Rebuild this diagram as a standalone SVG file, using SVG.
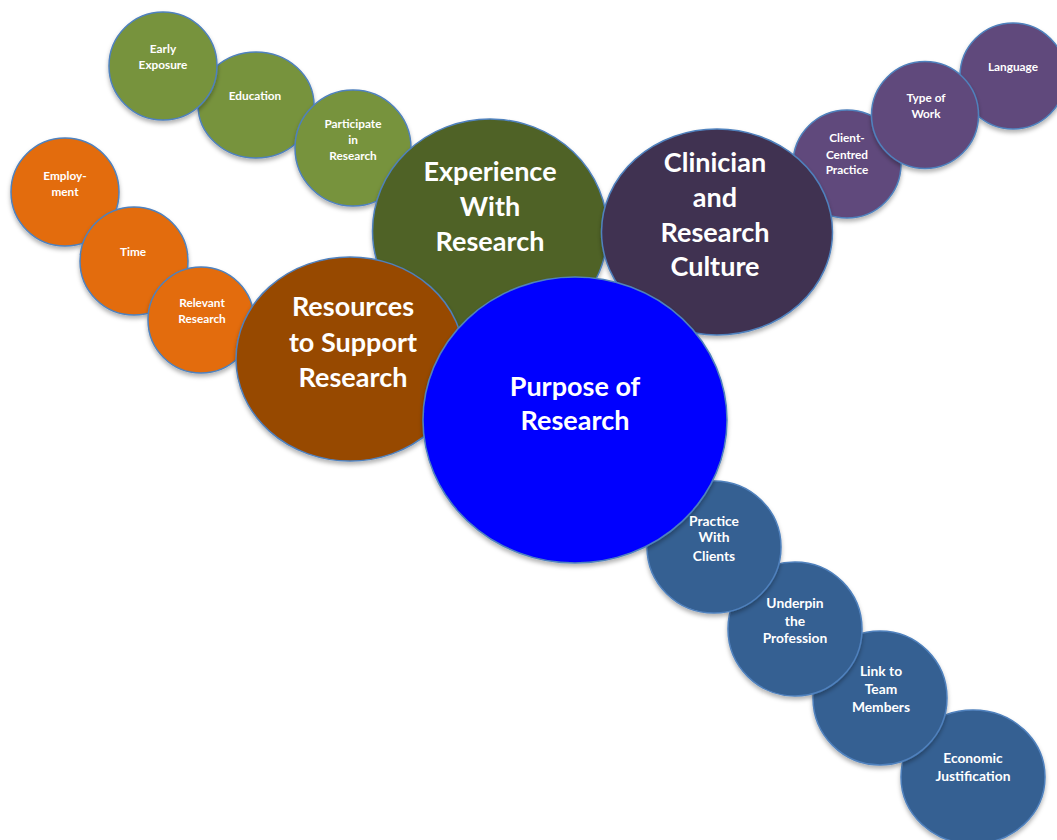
<svg xmlns="http://www.w3.org/2000/svg" width="1057" height="840" viewBox="0 0 1057 840">
  <defs>
    <filter id="shadow" x="-20%" y="-20%" width="140%" height="150%">
      <feDropShadow dx="0" dy="3" stdDeviation="2" flood-color="#000" flood-opacity="0.3"/>
    </filter>
  </defs>
  <style>
    .bubble { stroke: #4F81BD; stroke-width: 1.5; filter: url(#shadow); }
    .olive { fill: #77933C; }
    .moss { fill: #4F6228; }
    .plum { fill: #403151; }
    .lilac { fill: #604A7B; }
    .amber { fill: #E36C09; }
    .rust { fill: #974806; }
    .royal { fill: #0000FF; }
    .steel { fill: #366092; }
    text { fill: #FFFFFF; font-family: Lato, "Open Sans", "Liberation Sans", sans-serif; font-weight: bold; text-anchor: middle; }
    .sm { font-size: 11.8px; }
    .sm2 { font-size: 13.8px; }
    .lg { font-size: 27px; }
  </style>
  <rect width="1057" height="840" fill="#FFFFFF"/>

  <!-- orange chain: resources branch -->
  <g id="employment">
    <circle class="bubble amber" cx="65" cy="192" r="54"/>
    <text class="sm"><tspan x="65" y="180">Employ-</tspan><tspan x="65" y="196">ment</tspan></text>
  </g>
  <g id="time">
    <circle class="bubble amber" cx="134" cy="261" r="54"/>
    <text class="sm" x="133" y="256">Time</text>
  </g>
  <g id="relevant-research">
    <circle class="bubble amber" cx="201" cy="320" r="53"/>
    <text class="sm"><tspan x="202" y="307">Relevant</tspan><tspan x="202" y="323">Research</tspan></text>
  </g>

  <!-- green chain: experience branch -->
  <g id="education">
    <ellipse class="bubble olive" cx="256" cy="105" rx="58" ry="53"/>
    <text class="sm" x="255" y="100">Education</text>
  </g>
  <g id="early-exposure">
    <circle class="bubble olive" cx="163" cy="66" r="54"/>
    <text class="sm"><tspan x="163" y="53">Early</tspan><tspan x="163" y="69">Exposure</tspan></text>
  </g>
  <g id="participate">
    <circle class="bubble olive" cx="353" cy="148" r="58"/>
    <text class="sm"><tspan x="353" y="128">Participate</tspan><tspan x="353" y="144">in</tspan><tspan x="353" y="160">Research</tspan></text>
  </g>

  <!-- purple chain: culture branch -->
  <g id="language">
    <circle class="bubble lilac" cx="1013" cy="76" r="53"/>
    <text class="sm" x="1013" y="71">Language</text>
  </g>
  <g id="client-centred">
    <circle class="bubble lilac" cx="847" cy="164" r="54"/>
    <text class="sm"><tspan x="847" y="142">Client-</tspan><tspan x="847" y="159">Centred</tspan><tspan x="847" y="174">Practice</tspan></text>
  </g>
  <g id="type-of-work">
    <circle class="bubble lilac" cx="925" cy="115" r="53.5"/>
    <text class="sm"><tspan x="926" y="102">Type of</tspan><tspan x="926" y="118">Work</tspan></text>
  </g>

  <!-- main themes -->
  <g id="experience">
    <ellipse class="bubble moss" cx="490" cy="231" rx="117.5" ry="112"/>
    <text class="lg"><tspan x="490" y="181">Experience</tspan><tspan x="490" y="216">With</tspan><tspan x="490" y="251">Research</tspan></text>
  </g>
  <g id="clinician">
    <ellipse class="bubble plum" cx="717" cy="232" rx="115.5" ry="103"/>
    <text class="lg"><tspan x="715" y="172">Clinician</tspan><tspan x="715" y="207">and</tspan><tspan x="715" y="242">Research</tspan><tspan x="715" y="276">Culture</tspan></text>
  </g>
  <g id="resources">
    <ellipse class="bubble rust" cx="350" cy="359" rx="114" ry="102"/>
    <text class="lg"><tspan x="353" y="316">Resources</tspan><tspan x="353" y="352">to Support</tspan><tspan x="353" y="387">Research</tspan></text>
  </g>

  <!-- blue chain: purpose branch -->
  <g id="economic">
    <ellipse class="bubble steel" cx="973" cy="777" rx="72" ry="67"/>
    <text class="sm2"><tspan x="973" y="763">Economic</tspan><tspan x="973" y="781">Justification</tspan></text>
  </g>
  <g id="link-to-team">
    <circle class="bubble steel" cx="880" cy="698" r="67"/>
    <text class="sm2"><tspan x="881" y="676">Link to</tspan><tspan x="881" y="694">Team</tspan><tspan x="881" y="712">Members</tspan></text>
  </g>
  <g id="underpin">
    <circle class="bubble steel" cx="795" cy="629" r="67"/>
    <text class="sm2"><tspan x="795" y="608">Underpin</tspan><tspan x="795" y="626">the</tspan><tspan x="795" y="643">Profession</tspan></text>
  </g>
  <g id="practice-with-clients">
    <ellipse class="bubble steel" cx="714" cy="547" rx="67" ry="66"/>
  </g>

  <g id="purpose">
    <ellipse class="bubble royal" cx="575" cy="420" rx="152" ry="143"/>
    <text class="lg"><tspan x="575" y="396">Purpose of</tspan><tspan x="575" y="430">Research</tspan></text>
  </g>
  <g id="practice-with-clients-label">
    <text class="sm2"><tspan x="714" y="526">Practice</tspan><tspan x="714" y="542">With</tspan><tspan x="714" y="561">Clients</tspan></text>
  </g>
</svg>
